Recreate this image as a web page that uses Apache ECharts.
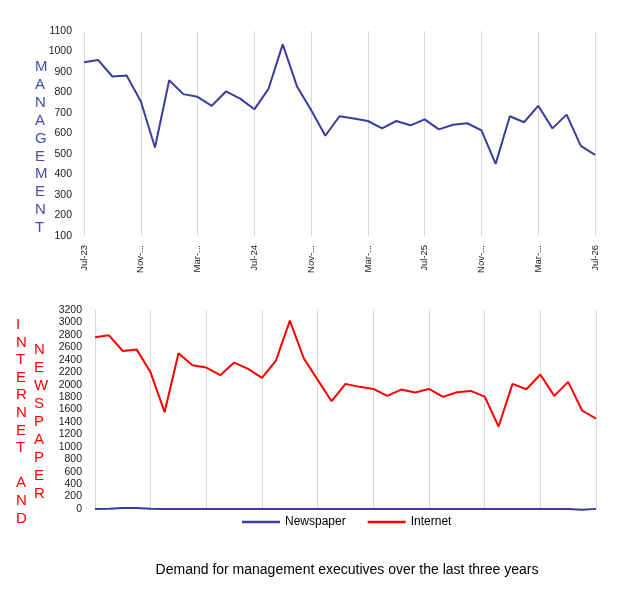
<!DOCTYPE html>
<html>
<head>
<meta charset="utf-8">
<script src="https://cdn.jsdelivr.net/npm/echarts@6/dist/echarts.min.js"></script>
<style>
  html, body { margin: 0; padding: 0; background: #fff; }
  #chart { width: 636px; height: 596px; }
</style>
</head>
<body>
<div id="chart"></div>
<script>
// months, Jul-23 .. Jul-26
const months = [
  "Jul-23", "Aug-23", "Sep-23", "Oct-23", "Nov-23", "Dec-23",
  "Jan-24", "Feb-24", "Mar-24", "Apr-24", "May-24", "Jun-24",
  "Jul-24", "Aug-24", "Sep-24", "Oct-24", "Nov-24", "Dec-24",
  "Jan-25", "Feb-25", "Mar-25", "Apr-25", "May-25", "Jun-25",
  "Jul-25", "Aug-25", "Sep-25", "Oct-25", "Nov-25", "Dec-25",
  "Jan-26", "Feb-26", "Mar-26", "Apr-26", "May-26", "Jun-26",
  "Jul-26"
];

const management = [
  948, 958, 878, 883, 757, 532, 860, 792, 779, 735, 805, 770,
  718, 818, 1035, 831, 715, 589, 684, 673, 661, 625, 661, 640,
  669, 620, 643, 650, 615, 452, 684, 655, 735, 625, 692, 540,
  496
];

const internet = [
  2761, 2793, 2541, 2563, 2194, 1557, 2504, 2311, 2274, 2151, 2354, 2253,
  2108, 2386, 3028, 2424, 2076, 1733, 2012, 1964, 1931, 1819, 1921, 1873,
  1931, 1803, 1878, 1899, 1808, 1327, 2012, 1926, 2162, 1819, 2044, 1584,
  1455
];

const newspaper = [
  2, 4, 15, 15, 5, 2, 1, 1, 1, 1, 1, 1,
  1, 1, 1, 1, 1, 1, 1, 1, 1, 1, 1, 1,
  1, 1, 1, 1, 1, 1, 1, 1, 1, 1, 0, -12,
  2
];

const blue = "#3c3c9a";
const red = "#ff0000";
const labelFont = "Liberation Sans";

// short label like the source sheet: only July shows the full text
function shortLabel(v) {
  return v.indexOf("Jul") === 0 ? v : v.slice(0, 4) + "...";
}

function vertical(word) {
  return word.split("").join("\n");
}

let chart = echarts.init(document.getElementById("chart"));

chart.setOption({
  animation: false,
  backgroundColor: "#fff",
  title: {
    text: "Demand for management executives over the last three years",
    left: 342,
    textAlign: "center",
    top: 558,
    textStyle: { fontFamily: labelFont, fontSize: 14, fontWeight: "normal", color: "#000" }
  },
  legend: {
    data: ["Newspaper", "Internet"],
    left: 237,
    top: 511,
    icon: "rect",
    itemWidth: 38,
    itemHeight: 2.5,
    itemGap: 22,
    textStyle: { fontFamily: labelFont, fontSize: 12, color: "#000" }
  },
  grid: [
    { left: 84, width: 511, top: 31, height: 205 },
    { left: 95, width: 501, top: 310, height: 199 }
  ],
  xAxis: [
    {
      gridIndex: 0,
      type: "category",
      data: months,
      boundaryGap: false,
      axisLine: { show: false },
      axisTick: { show: false },
      axisLabel: {
        interval: 3,
        rotate: 90,
        margin: 9,
        fontSize: 9.5,
        fontFamily: labelFont,
        color: "#1a1a1a",
        formatter: shortLabel
      },
      splitLine: { show: true, interval: 3, lineStyle: { color: "#d9d9d9", width: 1 } }
    },
    {
      gridIndex: 1,
      type: "category",
      data: months,
      boundaryGap: false,
      axisLine: { show: false },
      axisTick: { show: false },
      axisLabel: { show: false },
      splitLine: { show: true, interval: 3, lineStyle: { color: "#d9d9d9", width: 1 } }
    }
  ],
  yAxis: [
    {
      gridIndex: 0,
      type: "value",
      min: 100,
      max: 1100,
      interval: 100,
      axisLine: { show: false },
      axisTick: { show: false },
      splitLine: { show: false },
      axisLabel: {
        margin: 12, fontSize: 10.5, fontFamily: labelFont, color: "#1a1a1a",
        formatter: v => String(v)
      }
    },
    {
      gridIndex: 1,
      type: "value",
      min: 0,
      max: 3200,
      interval: 200,
      axisLine: { show: false },
      axisTick: { show: false },
      splitLine: { show: false },
      axisLabel: {
        margin: 13, fontSize: 10.5, fontFamily: labelFont, color: "#1a1a1a",
        formatter: v => String(v)
      }
    }
  ],
  series: [
    {
      name: "Management",
      type: "line",
      xAxisIndex: 0,
      yAxisIndex: 0,
      data: management,
      symbol: "none",
      lineStyle: { color: blue, width: 2 },
      itemStyle: { color: blue }
    },
    {
      name: "Newspaper",
      type: "line",
      xAxisIndex: 1,
      yAxisIndex: 1,
      data: newspaper,
      symbol: "none",
      clip: false,
      lineStyle: { color: blue, width: 2 },
      itemStyle: { color: blue }
    },
    {
      name: "Internet",
      type: "line",
      xAxisIndex: 1,
      yAxisIndex: 1,
      data: internet,
      symbol: "none",
      lineStyle: { color: red, width: 2 },
      itemStyle: { color: red }
    }
  ],
  graphic: [
    {
      type: "text",
      left: 35,
      top: 58,
      style: {
        text: vertical("MANAGEMENT"),
        fill: "#4b4bab",
        font: "15px " + labelFont,
        lineHeight: 17.9,
        align: "center"
      }
    },
    {
      type: "text",
      left: 16,
      top: 316,
      style: {
        text: vertical("INTERNET") + "\n\n" + vertical("AND"),
        fill: red,
        font: "15px " + labelFont,
        lineHeight: 17.6,
        align: "center"
      }
    },
    {
      type: "text",
      left: 34,
      top: 341,
      style: {
        text: vertical("NEWSPAPER"),
        fill: red,
        font: "15px " + labelFont,
        lineHeight: 18,
        align: "center"
      }
    }
  ]
});
</script>
</body>
</html>
